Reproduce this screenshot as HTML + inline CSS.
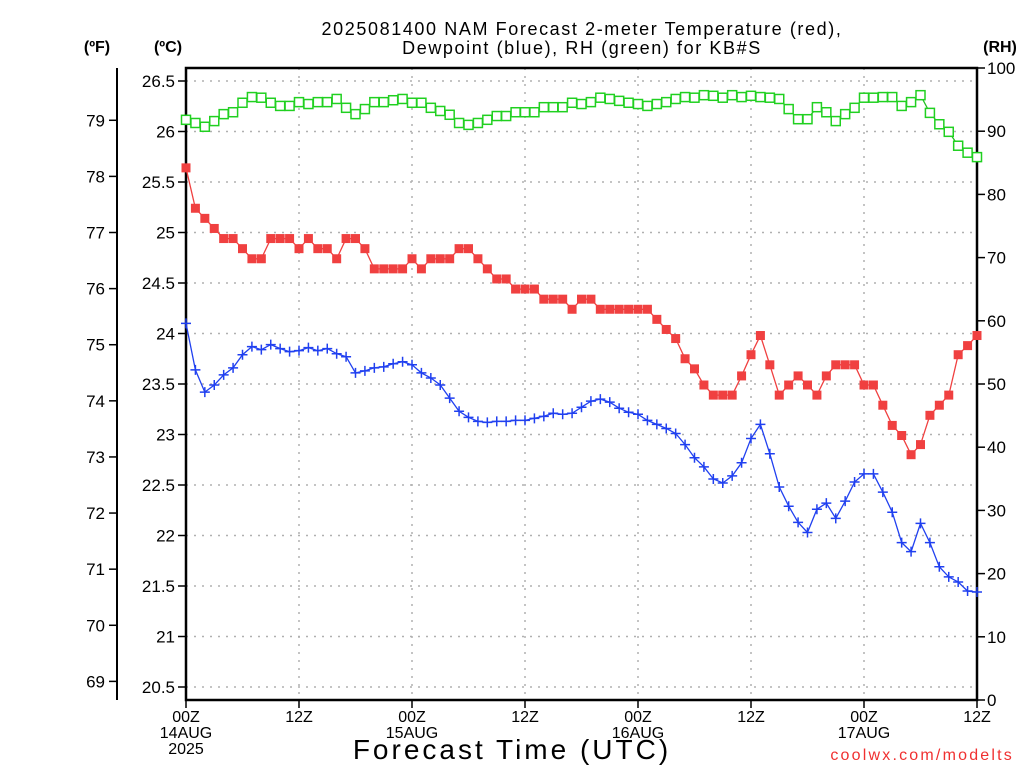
<!DOCTYPE html>
<html><head><meta charset="utf-8"><style>
body{margin:0;background:#fff;}
svg{display:block;font-family:"Liberation Sans",sans-serif;}
</style></head><body>
<svg id="chart" width="1024" height="768" viewBox="0 0 1024 768" xmlns="http://www.w3.org/2000/svg">
<rect width="1024" height="768" fill="#fff"/>
<text x="582" y="35" font-size="18" text-anchor="middle" letter-spacing="1.6">2025081400 NAM Forecast 2-meter Temperature (red),</text>
<text x="582" y="54" font-size="18" text-anchor="middle" letter-spacing="1.6">Dewpoint (blue), RH (green) for KB#S</text>
<text x="97" y="52" font-size="16" font-weight="bold" text-anchor="middle">(ºF)</text>
<text x="168" y="52" font-size="16" font-weight="bold" text-anchor="middle">(ºC)</text>
<text x="1000" y="52" font-size="16" font-weight="bold" text-anchor="middle">(RH)</text>
<g id="grid"></g>
<g id="axes"></g>
<g id="series"></g>
<text x="512" y="759" font-size="28" text-anchor="middle" letter-spacing="3">Forecast Time (UTC)</text>
<text x="1014" y="760" font-size="16" fill="#f03030" text-anchor="end" letter-spacing="2.2">coolwx.com/modelts</text>
</svg>
<script>
const hours = Array.from({length:85},(_,i)=>i);
const tempC = [25.64,25.24,25.14,25.04,24.94,24.94,24.84,24.74,24.74,24.94,24.94,24.94,24.84,24.94,24.84,24.84,24.74,24.94,24.94,24.84,24.64,24.64,24.64,24.64,24.74,24.64,24.74,24.74,24.74,
24.84,24.84,24.74,24.64,24.54,24.54,24.44,24.44,24.44,24.34,24.34,24.34,24.24,24.34,24.34,24.24,24.24,24.24,24.24,24.24,24.24,24.14,24.04,23.95,23.75,23.65,
23.49,23.39,23.39,23.39,23.58,23.79,23.98,23.69,23.39,23.49,23.58,23.49,23.39,23.58,23.69,23.69,23.69,23.49,23.49,23.29,23.09,22.99,22.80,22.90,23.19,23.29,23.39,23.79,23.88,23.98];
const dewC = [24.10,23.64,23.42,23.49,23.59,23.66,23.79,23.87,23.84,23.89,23.85,23.82,23.83,23.86,23.83,23.85,23.80,23.77,23.61,23.63,23.66,23.67,23.70,23.72,23.69,23.61,23.56,23.49,23.36,
23.23,23.17,23.13,23.12,23.13,23.13,23.14,23.14,23.16,23.18,23.21,23.20,23.21,23.27,23.33,23.35,23.32,23.26,23.22,23.20,23.14,23.10,23.06,23.01,22.90,22.77,
22.68,22.56,22.52,22.59,22.72,22.96,23.10,22.81,22.48,22.29,22.13,22.03,22.26,22.32,22.17,22.34,22.53,22.61,22.61,22.43,22.23,21.93,21.84,22.12,21.93,21.69,21.59,21.54,21.45,21.44];
const rh = [91.8,91.3,90.7,91.6,92.7,93.0,94.5,95.4,95.3,94.5,94.0,94.0,94.6,94.3,94.6,94.6,95.1,93.7,92.7,93.5,94.6,94.6,94.9,95.1,94.5,94.5,93.7,93.2,92.6,
91.3,91.0,91.3,91.8,92.4,92.4,93.0,93.0,93.0,93.8,93.8,93.8,94.5,94.3,94.6,95.3,95.1,94.8,94.5,94.3,94.0,94.3,94.6,95.1,95.4,95.3,
95.7,95.6,95.3,95.7,95.4,95.6,95.4,95.3,95.1,93.5,91.9,91.9,93.8,93.0,91.6,92.7,93.7,95.3,95.3,95.4,95.4,94.0,94.6,95.7,92.9,91.1,89.9,87.7,86.6,85.9];
const cTicks = [20.5,21,21.5,22,22.5,23,23.5,24,24.5,25,25.5,26,26.5];
const fTicks = [69,70,71,72,73,74,75,76,77,78,79];
const rhTicks = [0,10,20,30,40,50,60,70,80,90,100];
const xTickHours = [0,12,24,36,48,60,72,84];
const xTickLabels = [["00Z","14AUG","2025"],["12Z"],["00Z","15AUG"],["12Z"],["00Z","16AUG"],["12Z"],["00Z","17AUG"],["12Z"]];

const L=186,R=977,T=68,B=700;
const xS=h=>L+(R-L)*h/84;
const yC=c=>81+(26.5-c)*101;
const yF=f=>yC((f-32)/1.8);
const yRH=v=>B-(B-T)*v/100;
const NS="http://www.w3.org/2000/svg";
function mk(tag,attrs,parent){const e=document.createElementNS(NS,tag);for(const k in attrs)e.setAttribute(k,attrs[k]);parent.appendChild(e);return e;}
const grid=document.getElementById('grid'),axes=document.getElementById('axes'),ser=document.getElementById('series');

cTicks.forEach(c=>{const y=yC(c);
 const g=mk('line',{x1:L,x2:R,y1:y,y2:y,stroke:'#b0b0b0','stroke-dasharray':'2,6','stroke-width':1.5},grid);
 
 
 const t=mk('line',{x1:L-8,x2:L,y1:y,y2:y,stroke:'#000','stroke-width':1.5},axes);
 
 
 const tx=mk('text',{x:L-11,y:y+6,'font-size':17,'text-anchor':'end'},axes);tx.textContent=String(c);
 
 
});
xTickHours.forEach((h,i)=>{const x=xS(h);
 if(h>0&&h<84){const g=mk('line',{x1:x,x2:x,y1:T,y2:B,stroke:'#b0b0b0','stroke-dasharray':'2,6','stroke-width':1.5},grid);
 
 }
 const t=mk('line',{x1:x,x2:x,y1:B,y2:B+8,stroke:'#000','stroke-width':1.5},axes);
 
 
 xTickLabels[i].forEach((s,j)=>{const tx=mk('text',{x:x,y:B+22+j*16,'font-size':16,'text-anchor':'middle'},axes);tx.textContent=s;
 
 });
});
fTicks.forEach(f=>{const y=yF(f);
 const t=mk('line',{x1:109,x2:117,y1:y,y2:y,stroke:'#000','stroke-width':1.5},axes);
 
 
 const tx=mk('text',{x:105,y:y+6,'font-size':17,'text-anchor':'end'},axes);tx.textContent=String(f);
 
 
});
rhTicks.forEach(v=>{const y=yRH(v);
 const t=mk('line',{x1:R,x2:R+8,y1:y,y2:y,stroke:'#000','stroke-width':1.5},axes);
 
 
 const tx=mk('text',{x:R+10,y:y+6,'font-size':17,'text-anchor':'start'},axes);tx.textContent=String(v);
 
 
});
const fAx=mk('line',{x1:117,x2:117,y1:T,y2:B,stroke:'#000','stroke-width':2},axes);


const box=mk('rect',{x:L,y:T,width:R-L,height:B-T,fill:'none',stroke:'#000','stroke-width':2.5},axes);



function line(vals,yf,color,name){
 const pts=vals.map((v,i)=>xS(hours[i]).toFixed(1)+','+yf(v).toFixed(1)).join(' ');
 const p=mk('polyline',{points:pts,fill:'none',stroke:color,'stroke-width':1.3},ser);
 
 
}
line(rh,yRH,'#20c020','rh-line');
line(tempC,yC,'#f04040','temperature-line');
line(dewC,yC,'#2040f0','dewpoint-line');
rh.forEach((v,i)=>{const x=xS(hours[i]),y=yRH(v);
 const m=mk('rect',{x:x-4.5,y:y-4.5,width:9,height:9,fill:'#fff',stroke:'#20d020','stroke-width':1.5},ser);
 
 });
tempC.forEach((v,i)=>{const x=xS(hours[i]),y=yC(v);
 const m=mk('rect',{x:x-4.5,y:y-4.5,width:9,height:9,fill:'#f04040'},ser);
 
 });
dewC.forEach((v,i)=>{const x=xS(hours[i]),y=yC(v);
 const m=mk('path',{d:`M${x-5},${y}H${x+5}M${x},${y-5}V${y+5}`,stroke:'#2040f0','stroke-width':1.5},ser);
 
 });
</script>
</body></html>
